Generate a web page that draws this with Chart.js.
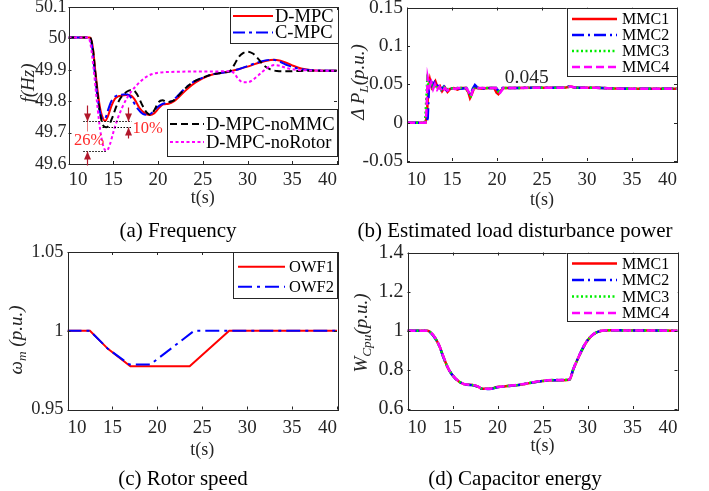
<!DOCTYPE html>
<html>
<head>
<meta charset="utf-8">
<script src="https://cdn.jsdelivr.net/npm/chart.js@4.4.1/dist/chart.umd.min.js"></script>
<style>
  body { margin: 0; width: 709px; height: 491px; background: #fff; position: relative; overflow: hidden;
         font-family: 'Liberation Serif', 'Times New Roman', serif; color: #262626; }
  canvas { position: absolute; left: 0; top: 0; }
  .cap { position: absolute; font-size: 21px; white-space: nowrap; transform: translate(-50%, -50%); color: #000; }
  .ylab { position: absolute; font-size: 19px; font-style: italic; white-space: nowrap;
          transform: translate(-50%, -50%) rotate(-90deg); }
  .ylab sub { font-size: 70%; vertical-align: -0.3em; line-height: 0; }
</style>
</head>
<body>
<canvas id="cA" width="709" height="491"></canvas>
<canvas id="cB" width="709" height="491"></canvas>
<canvas id="cC" width="709" height="491"></canvas>
<canvas id="cD" width="709" height="491"></canvas>

<div class="ylab" style="left:28px;top:83px">f(Hz)</div>
<div class="ylab" style="left:358px;top:82px">&Delta; P<sub>L</sub>(p.u.)</div>
<div class="ylab" style="left:16px;top:340px">&omega;<sub>m</sub> (p.u.)</div>
<div class="ylab" style="left:361px;top:333px">W<sub>Cpu</sub>(p.u.)</div>

<div class="cap" style="left:178px;top:230px">(a) Frequency</div>
<div class="cap" style="left:515px;top:230px">(b) Estimated load disturbance power</div>
<div class="cap" style="left:183px;top:478px">(c) Rotor speed</div>
<div class="cap" style="left:515px;top:478px">(d) Capacitor energy</div>

<script>
// common time axis
var xTicks = [10, 15, 20, 25, 30, 35, 40];

// (a) frequency, Hz
var freqTicks = [49.6, 49.7, 49.8, 49.9, 50, 50.1];
var freqTickLabels = ['49.6', '49.7', '49.8', '49.9', '50', '50.1'];
var tDmpc = [10, 12.4, 12.7, 13.0, 13.3, 13.6, 13.9, 14.1, 14.4, 14.8, 15.2, 15.6, 16.0, 16.5, 17.0, 17.4, 17.9, 18.5, 19.1, 19.6, 20.1, 20.6, 21.2, 21.8, 22.5, 23.3, 24.2, 25.0, 26.0, 27.0, 28.0, 29.0, 30.0, 31.0, 32.0, 33.0, 34.0, 35.0, 36.0, 37.0, 38.0, 40];
var fDmpc = [50.003, 50.003, 49.975, 49.895, 49.822, 49.768, 49.742, 49.737, 49.752, 49.785, 49.808, 49.816, 49.818, 49.82, 49.818, 49.805, 49.78, 49.762, 49.756, 49.762, 49.778, 49.79, 49.792, 49.8, 49.818, 49.84, 49.86, 49.873, 49.884, 49.89, 49.895, 49.902, 49.91, 49.92, 49.928, 49.932, 49.926, 49.914, 49.904, 49.899, 49.897, 49.897];
var tCmpc = [10, 12.35, 12.65, 12.95, 13.25, 13.55, 13.85, 14.1, 14.4, 14.7, 15.0, 15.4, 15.8, 16.3, 16.8, 17.2, 17.7, 18.3, 18.9, 19.4, 19.9, 20.4, 21.0, 21.6, 22.3, 23.1, 24.0, 25.0, 26.0, 27.0, 28.0, 29.0, 30.0, 31.0, 32.0, 32.8, 33.6, 34.5, 35.5, 36.5, 38, 40];
var fCmpc = [50.003, 50.003, 49.97, 49.885, 49.812, 49.762, 49.742, 49.745, 49.77, 49.795, 49.81, 49.818, 49.82, 49.822, 49.818, 49.8, 49.777, 49.76, 49.757, 49.765, 49.78, 49.79, 49.795, 49.802, 49.82, 49.843, 49.862, 49.875, 49.885, 49.89, 49.894, 49.902, 49.912, 49.922, 49.93, 49.932, 49.926, 49.914, 49.905, 49.9, 49.898, 49.897];
var tNoMmc = [10, 12.4, 12.7, 13.0, 13.3, 13.6, 13.9, 14.2, 14.5, 14.9, 15.3, 15.7, 16.1, 16.5, 16.9, 17.3, 17.7, 18.2, 18.7, 19.1, 19.6, 20.0, 20.5, 21.0, 21.6, 22.3, 23.1, 24.0, 25.0, 26.0, 27.0, 28.0, 28.5, 29.0, 29.5, 30.0, 30.6, 31.2, 31.8, 32.5, 33.3, 34.2, 35.5, 37, 40];
var fNoMmc = [50.003, 50.003, 49.972, 49.89, 49.81, 49.75, 49.722, 49.717, 49.723, 49.748, 49.78, 49.805, 49.82, 49.83, 49.835, 49.834, 49.82, 49.79, 49.765, 49.757, 49.772, 49.795, 49.803, 49.797, 49.8, 49.818, 49.842, 49.862, 49.875, 49.885, 49.89, 49.895, 49.915, 49.94, 49.953, 49.958, 49.952, 49.935, 49.915, 49.902, 49.896, 49.895, 49.896, 49.897, 49.897];
var tNoRotor = [10, 12.2, 12.5, 12.8, 13.1, 13.4, 13.7, 14.0, 14.25, 14.6, 15.0, 15.5, 16.0, 16.5, 17.0, 17.5, 18.0, 18.6, 19.2, 19.9, 21.0, 28.2, 28.6, 29.0, 29.5, 30.0, 30.6, 31.2, 31.8, 32.4, 33.0, 33.6, 34.4, 35.5, 37, 40];
var fNoRotor = [50.003, 50.003, 49.975, 49.905, 49.82, 49.74, 49.68, 49.648, 49.642, 49.66, 49.7, 49.745, 49.78, 49.808, 49.83, 49.847, 49.862, 49.876, 49.885, 49.89, 49.893, 49.895, 49.885, 49.87, 49.86, 49.86, 49.868, 49.882, 49.897, 49.909, 49.915, 49.913, 49.905, 49.9, 49.898, 49.897];
// nadir markers: levels, time spans of the dotted lines, arrow times, labels
var nadirLevels = [49.737, 49.719, 49.641];
var nadirSpans = [[11.65, 17.05], [13.8, 17.05], [11.65, 14.3]];
var arrowTimes = [12.05, 16.6];
var nadirLabels = ['26%', '10%'];

// (b) estimated load disturbance, p.u.
var dplTicks = [-0.05, 0, 0.05, 0.1, 0.15];
var dplTickLabels = ['-0.05', '0', '0.05', '0.1', '0.15'];
var tMmc1 = [10, 12.05, 12.2, 12.35, 12.55, 12.75, 12.95, 13.15, 13.4, 13.65, 13.9, 14.2, 14.5, 14.8, 15.2, 15.6, 16.0, 16.5, 16.8, 17.0, 17.2, 17.45, 17.8, 18.3, 19.0, 19.7, 19.95, 20.15, 20.4, 20.7, 21.5, 24, 27.5, 28.2, 28.5, 29, 31, 33, 35, 40];
var pMmc1 = [0, 0, 0.008, 0.04, 0.056, 0.046, 0.05, 0.054, 0.046, 0.048, 0.041, 0.046, 0.04, 0.044, 0.045, 0.043, 0.045, 0.045, 0.04, 0.032, 0.037, 0.045, 0.045, 0.044, 0.045, 0.045, 0.039, 0.037, 0.041, 0.045, 0.045, 0.0455, 0.0455, 0.047, 0.046, 0.0455, 0.0455, 0.0445, 0.044, 0.044];
var tMmc2 = [10, 12.15, 12.3, 12.45, 12.65, 12.85, 13.05, 13.3, 13.55, 13.8, 14.1, 14.4, 14.8, 15.2, 15.6, 16.0, 16.6, 16.85, 17.05, 17.3, 17.55, 17.9, 18.5, 19.2, 19.9, 20.1, 20.3, 20.6, 21.5, 24, 27.5, 28.1, 28.4, 29, 31, 33, 35, 40];
var pMmc2 = [0, 0, 0.006, 0.05, 0.057, 0.047, 0.052, 0.046, 0.05, 0.043, 0.047, 0.042, 0.045, 0.044, 0.045, 0.044, 0.045, 0.041, 0.036, 0.044, 0.049, 0.045, 0.044, 0.045, 0.045, 0.042, 0.041, 0.045, 0.045, 0.0455, 0.0455, 0.0475, 0.046, 0.0455, 0.0455, 0.0445, 0.044, 0.044];
var tMmc3 = [10, 12.0, 12.1, 12.25, 12.45, 12.65, 12.85, 13.05, 13.3, 13.55, 13.8, 14.1, 14.4, 14.8, 15.2, 15.6, 16.0, 16.6, 16.9, 17.1, 17.3, 17.6, 18.0, 19.0, 19.9, 20.1, 20.35, 20.7, 21.5, 24, 27.5, 28.2, 28.5, 29, 31, 33, 35, 40];
var pMmc3 = [0, 0, 0.02, 0.055, 0.047, 0.052, 0.045, 0.049, 0.044, 0.047, 0.043, 0.046, 0.043, 0.045, 0.044, 0.045, 0.045, 0.045, 0.038, 0.035, 0.043, 0.046, 0.045, 0.045, 0.045, 0.041, 0.04, 0.045, 0.045, 0.0455, 0.0455, 0.047, 0.046, 0.0455, 0.0455, 0.0445, 0.044, 0.044];
var tMmc4 = [10, 12.05, 12.15, 12.3, 12.5, 12.7, 12.9, 13.1, 13.35, 13.6, 13.9, 14.2, 14.5, 14.9, 15.3, 15.7, 16.1, 16.6, 16.9, 17.1, 17.3, 17.6, 18.0, 19.0, 19.9, 20.1, 20.35, 20.7, 21.5, 24, 27.5, 28.2, 28.5, 29, 31, 33, 35, 40];
var pMmc4 = [0, 0, 0.012, 0.059, 0.047, 0.053, 0.044, 0.05, 0.043, 0.047, 0.04, 0.045, 0.042, 0.045, 0.044, 0.045, 0.045, 0.045, 0.039, 0.034, 0.042, 0.046, 0.045, 0.045, 0.045, 0.04, 0.039, 0.045, 0.045, 0.0455, 0.0455, 0.047, 0.046, 0.0455, 0.0455, 0.0445, 0.044, 0.044];
var steadyLabel = '0.045';
var steadyLabelAt = [23.3, 0.0584];

// (c) rotor speed, p.u.
var wTicks = [0.95, 1, 1.05];
var wTickLabels = ['0.95', '1', '1.05'];
var tOwf1 = [10, 12.5, 14.5, 17.0, 23.6, 28.0, 40];
var wOwf1 = [1, 1, 0.9885, 0.9775, 0.9775, 1, 1];
var tOwf2 = [10, 12.5, 14.5, 16.9, 19.2, 24.1, 40];
var wOwf2 = [1, 1, 0.9885, 0.9785, 0.9785, 1, 1];

// (d) capacitor energy, p.u.
var wcTicks = [0.6, 0.8, 1, 1.2, 1.4];
var wcTickLabels = ['0.6', '0.8', '1', '1.2', '1.4'];
var tCap = [10, 12.2, 12.8, 13.5, 14.05, 14.6, 15.3, 16.2, 16.6, 17.2, 17.8, 18.3, 19.1, 20.0, 21.1, 22.2, 23.3, 24.8, 26.3, 28.0, 28.4, 29.2, 29.9, 30.7, 31.6, 32.5, 40];
var wcMmc1 = [1.0, 1.0, 0.98, 0.927, 0.859, 0.8, 0.757, 0.728, 0.724, 0.723, 0.715, 0.703, 0.703, 0.712, 0.717, 0.722, 0.73, 0.742, 0.747, 0.75, 0.8, 0.884, 0.944, 0.983, 1.0, 1.002, 1.0];
var wcMmc2 = [1.0, 1.0, 0.979, 0.925, 0.857, 0.8, 0.756, 0.728, 0.724, 0.722, 0.714, 0.703, 0.702, 0.711, 0.717, 0.722, 0.73, 0.742, 0.747, 0.75, 0.801, 0.885, 0.945, 0.983, 1.0, 1.002, 1.0];
var wcMmc3 = [1.0, 1.0, 0.98, 0.926, 0.858, 0.801, 0.757, 0.729, 0.725, 0.723, 0.715, 0.704, 0.703, 0.712, 0.718, 0.722, 0.731, 0.742, 0.748, 0.75, 0.8, 0.884, 0.944, 0.983, 1.0, 1.002, 1.0];
var wcMmc4 = [1.0, 1.0, 0.981, 0.927, 0.86, 0.801, 0.758, 0.729, 0.725, 0.723, 0.716, 0.704, 0.703, 0.712, 0.718, 0.723, 0.731, 0.743, 0.748, 0.751, 0.801, 0.885, 0.945, 0.984, 1.0, 1.002, 1.0];

var FONT = "'Liberation Serif', 'Times New Roman', serif";
var INK = '#262626';
Chart.defaults.font.family = FONT;

function series(label, t, v, color, dash, width, smooth) {
    return {
        label: label,
        data: t.map(function (x, i) { return { x: x, y: v[i] }; }),
        borderColor: color,
        borderWidth: width,
        borderDash: dash,
        pointRadius: 0,
        fill: false,
        tension: 0,
        cubicInterpolationMode: smooth ? 'monotone' : 'default'
    };
}

function arrow(ctx, x, y0, tip) {
    var dir = tip > y0 ? 1 : -1;
    ctx.beginPath();
    ctx.moveTo(x, y0);
    ctx.lineTo(x, tip);
    ctx.stroke();
    ctx.beginPath();
    ctx.moveTo(x, tip);
    ctx.lineTo(x - 3.5, tip - dir * 8);
    ctx.lineTo(x + 3.5, tip - dir * 8);
    ctx.closePath();
    ctx.fill();
}

function drawLegend(chart, lg) {
    var ctx = chart.ctx;
    ctx.save();
    ctx.fillStyle = '#fff';
    ctx.fillRect(lg.x1, lg.y1, lg.x2 - lg.x1, lg.y2 - lg.y1);
    ctx.strokeStyle = INK;
    ctx.lineWidth = 1;
    ctx.strokeRect(Math.round(lg.x1) + 0.5, Math.round(lg.y1) + 0.5, Math.round(lg.x2 - lg.x1), Math.round(lg.y2 - lg.y1));
    lg.items.forEach(function (di, k) {
        var ds = chart.data.datasets[di];
        var y = lg.rows[k];
        ctx.strokeStyle = ds.borderColor;
        ctx.lineWidth = ds.borderWidth;
        ctx.setLineDash(ds.borderDash || []);
        ctx.beginPath();
        ctx.moveTo(lg.lx1, y);
        ctx.lineTo(lg.lx2, y);
        ctx.stroke();
        ctx.setLineDash([]);
        ctx.fillStyle = '#000';
        ctx.font = lg.size + 'px ' + FONT;
        ctx.textBaseline = 'middle';
        ctx.textAlign = 'left';
        ctx.fillText(ds.label, lg.tx, y + 1);
    });
    ctx.restore();
}

function drawDecor(chart, cfg) {
    var ctx = chart.ctx, a = chart.chartArea, xs = chart.scales.x, ys = chart.scales.y;
    ctx.save();
    ctx.strokeStyle = INK;
    ctx.lineWidth = 1;
    ctx.strokeRect(Math.round(a.left) + 0.5, Math.round(a.top) + 0.5, Math.round(a.right - a.left), Math.round(a.bottom - a.top));
    ctx.beginPath();
    xs.ticks.forEach(function (t) {
        var px = Math.round(xs.getPixelForValue(t.value)) + 0.5;
        ctx.moveTo(px, a.bottom); ctx.lineTo(px, a.bottom - 3);
        ctx.moveTo(px, a.top); ctx.lineTo(px, a.top + 3);
    });
    ys.ticks.forEach(function (t) {
        var py = Math.round(ys.getPixelForValue(t.value)) + 0.5;
        ctx.moveTo(a.left, py); ctx.lineTo(a.left + 3, py);
        ctx.moveTo(a.right, py); ctx.lineTo(a.right - 3, py);
    });
    ctx.stroke();
    ctx.restore();
    if (cfg.extra) cfg.extra(chart);
    cfg.legends.forEach(function (lg) { drawLegend(chart, lg); });
}

function makeChart(id, cfg) {
    var L = cfg.box;
    var tickLH = cfg.xFont * 1.2, titleLH = 18 * 1.2;
    var xH = L.titleY + titleLH / 2 - L.B;
    var datasets = cfg.datasets;
    datasets.forEach(function (d, i) { d.order = datasets.length - 1 - i; });
    var ctx = document.getElementById(id).getContext('2d');
    return new Chart(ctx, {
        type: 'line',
        data: { datasets: datasets },
        options: {
            responsive: false,
            animation: false,
            events: [],
            layout: { padding: { left: L.L - L.yW, right: 709 - L.R, top: L.T, bottom: 491 - L.B - xH } },
            plugins: { legend: { display: false }, tooltip: { enabled: false } },
            scales: {
                x: {
                    type: 'linear', min: 10, max: 40,
                    afterBuildTicks: function (s) { s.ticks = xTicks.map(function (v) { return { value: v }; }); },
                    afterFit: function (s) { s.height = xH; s.paddingLeft = 0; s.paddingRight = 0; },
                    grid: { display: false, drawTicks: false },
                    border: { display: false },
                    ticks: { autoSkip: false, maxRotation: 0, align: 'inner', color: INK,
                             padding: L.tickY - tickLH / 2 - L.B,
                             font: { size: cfg.xFont },
                             callback: function (v) { return String(v); } },
                    title: { display: true, text: 't(s)', color: INK, padding: 0, font: { size: 18 } }
                },
                y: {
                    type: 'linear', min: cfg.yTicks[0], max: cfg.yTicks[cfg.yTicks.length - 1],
                    afterBuildTicks: function (s) { s.ticks = cfg.yTicks.map(function (v) { return { value: v }; }); },
                    afterFit: function (s) { s.width = L.yW; s.paddingTop = 0; s.paddingBottom = 0; },
                    grid: { display: false, drawTicks: false },
                    border: { display: false },
                    ticks: { autoSkip: false, color: INK, padding: cfg.yPad, font: { size: cfg.yFont },
                             callback: function (v, i) { return cfg.yLabels[i]; } }
                }
            }
        },
        plugins: [{ id: 'decor', afterDraw: function (chart) { drawDecor(chart, cfg); } }]
    });
}

// (a) Frequency
makeChart('cA', {
    box: { L: 68.5, R: 337, T: 7, B: 164, tickY: 180, titleY: 198.3, yW: 45 },
    xFont: 19, yFont: 18, yPad: 2,
    yTicks: freqTicks, yLabels: freqTickLabels,
    datasets: [
        series('D-MPC', tDmpc, fDmpc, '#ff0000', [], 2, true),
        series('C-MPC', tCmpc, fCmpc, '#0000ff', [12, 4, 3, 4], 2, true),
        series('D-MPC-noMMC', tNoMmc, fNoMmc, '#000000', [7, 4], 2, true),
        series('D-MPC-noRotor', tNoRotor, fNoRotor, '#ff00ff', [3, 2.5], 2, true)
    ],
    legends: [
        { items: [0, 1], x1: 229.5, y1: 7, x2: 337, y2: 42.5, rows: [16, 32.5], lx1: 233, lx2: 273, tx: 275, size: 18.5 },
        { items: [2, 3], x1: 167, y1: 109, x2: 337, y2: 156, rows: [124, 142], lx1: 170, lx2: 204, tx: 206, size: 18.5 }
    ],
    extra: function (chart) {
        var ctx = chart.ctx, xs = chart.scales.x, ys = chart.scales.y;
        var lv = nadirLevels.map(function (v) { return Math.round(ys.getPixelForValue(v)) + 0.5; });
        ctx.save();
        ctx.strokeStyle = '#000';
        ctx.lineWidth = 1;
        ctx.setLineDash([1.5, 1.5]);
        nadirSpans.forEach(function (sp, i) {
            ctx.beginPath();
            ctx.moveTo(xs.getPixelForValue(sp[0]), lv[i]);
            ctx.lineTo(xs.getPixelForValue(sp[1]), lv[i]);
            ctx.stroke();
        });
        ctx.setLineDash([]);
        ctx.strokeStyle = '#b2182b';
        ctx.fillStyle = '#b2182b';
        ctx.lineWidth = 1.2;
        var xl = Math.round(xs.getPixelForValue(arrowTimes[0])) + 0.5;
        var xr = Math.round(xs.getPixelForValue(arrowTimes[1])) + 0.5;
        arrow(ctx, xl, lv[0] - 16, lv[0]);
        arrow(ctx, xl, lv[2] + 14, lv[2]);
        arrow(ctx, xr, lv[0] - 14, lv[0]);
        arrow(ctx, xr, lv[1] + 11, lv[1]);
        ctx.strokeStyle = 'rgba(220,40,40,0.6)';
        ctx.lineWidth = 1;
        ctx.beginPath();
        ctx.moveTo(xl, lv[0]);
        ctx.lineTo(xl, lv[2] - 20);
        ctx.stroke();
        ctx.fillStyle = '#ff2a2a';
        ctx.font = '16.5px ' + FONT;
        ctx.textBaseline = 'middle';
        ctx.textAlign = 'center';
        ctx.fillText(nadirLabels[0], xl + 1.5, lv[2] - 11);
        ctx.textAlign = 'left';
        ctx.fillText(nadirLabels[1], xr + 4, lv[1] + 1);
        ctx.restore();
    }
});

// (b) Estimated load disturbance power
makeChart('cB', {
    box: { L: 407, R: 677, T: 7.5, B: 161, tickY: 180, titleY: 200, yW: 52 },
    xFont: 19, yFont: 19.5, yPad: 4,
    yTicks: dplTicks, yLabels: dplTickLabels,
    datasets: [
        series('MMC1', tMmc1, pMmc1, '#ff0000', [], 2.5, false),
        series('MMC2', tMmc2, pMmc2, '#0000ff', [12, 4, 2, 4], 2.5, false),
        series('MMC3', tMmc3, pMmc3, '#00ee00', [2, 2.5], 2.5, false),
        series('MMC4', tMmc4, pMmc4, '#ff00ff', [8, 4], 2.5, false)
    ],
    legends: [
        { items: [0, 1, 2, 3], x1: 566.7, y1: 7.5, x2: 677, y2: 75, rows: [19, 35, 51, 67], lx1: 572, lx2: 617, tx: 622, size: 16 }
    ],
    extra: function (chart) {
        var ctx = chart.ctx, xs = chart.scales.x, ys = chart.scales.y;
        ctx.save();
        ctx.fillStyle = INK;
        ctx.font = '19.5px ' + FONT;
        ctx.textAlign = 'center';
        ctx.textBaseline = 'middle';
        ctx.fillText(steadyLabel, xs.getPixelForValue(steadyLabelAt[0]), ys.getPixelForValue(steadyLabelAt[1]));
        ctx.restore();
    }
});

// (c) Rotor speed
makeChart('cC', {
    box: { L: 67.5, R: 337, T: 252, B: 409.5, tickY: 427.7, titleY: 450, yW: 45 },
    xFont: 19, yFont: 18.5, yPad: 4,
    yTicks: wTicks, yLabels: wTickLabels,
    datasets: [
        series('OWF1', tOwf1, wOwf1, '#ff0000', [], 2, false),
        series('OWF2', tOwf2, wOwf2, '#0000ff', [14, 5, 3, 5], 2, false)
    ],
    legends: [
        { items: [0, 1], x1: 233.3, y1: 252, x2: 337, y2: 298.3, rows: [266.7, 286.7], lx1: 238, lx2: 285, tx: 289, size: 16.5 }
    ]
});

// (d) Capacitor energy
makeChart('cD', {
    box: { L: 407.5, R: 677.5, T: 252.5, B: 409, tickY: 427.7, titleY: 446.7, yW: 52 },
    xFont: 19, yFont: 20, yPad: 4,
    yTicks: wcTicks, yLabels: wcTickLabels,
    datasets: [
        series('MMC1', tCap, wcMmc1, '#ff0000', [], 2.5, true),
        series('MMC2', tCap, wcMmc2, '#0000ff', [12, 4, 2, 4], 2.5, true),
        series('MMC3', tCap, wcMmc3, '#00ee00', [2, 2.5], 2.5, true),
        series('MMC4', tCap, wcMmc4, '#ff00ff', [8, 4], 2.5, true)
    ],
    legends: [
        { items: [0, 1, 2, 3], x1: 566.7, y1: 252.5, x2: 677.5, y2: 320, rows: [263.5, 280, 296.5, 313], lx1: 572, lx2: 617, tx: 622, size: 16 }
    ]
});
</script>
</body>
</html>
